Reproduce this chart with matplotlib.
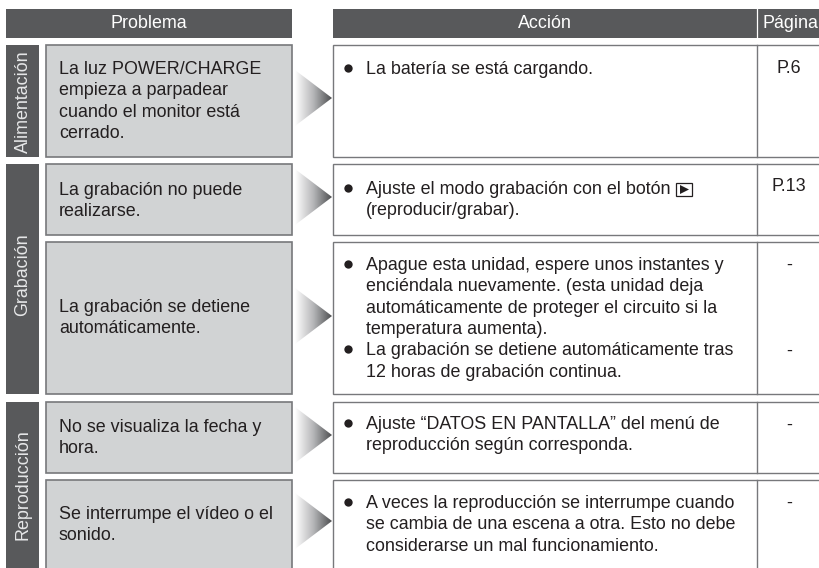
import numpy as np
import matplotlib
matplotlib.use("Agg")
import matplotlib.pyplot as plt
from matplotlib.patches import Rectangle, Polygon

plt.rcParams['font.family'] = ['Liberation Sans', 'DejaVu Sans']

cabeceras = ["Problema", "Acción", "Página"]
grupos = ["Alimentación", "Grabación", "Reproducción"]
problemas = [
	["La luz POWER/CHARGE", "empieza a parpadear", "cuando el monitor está", "cerrado."],
	["La grabación no puede", "realizarse."],
	["La grabación se detiene", "automáticamente."],
	["No se visualiza la fecha y", "hora."],
	["Se interrumpe el vídeo o el", "sonido."],
]
acciones = [
	[["La batería se está cargando."]],
	[["Ajuste el modo grabación con el botón", "(reproducir/grabar)."]],
	[["Apague esta unidad, espere unos instantes y", "enciéndala nuevamente. (esta unidad deja",
	  "automáticamente de proteger el circuito si la", "temperatura aumenta)."],
	 ["La grabación se detiene automáticamente tras", "12 horas de grabación continua."]],
	[["Ajuste “DATOS EN PANTALLA” del menú de", "reproducción según corresponda."]],
	[["A veces la reproducción se interrumpe cuando", "se cambia de una escena a otra. Esto no debe",
	  "considerarse un mal funcionamiento."]],
]
paginas = [["P.6"], ["P.13"], ["-", "-"], ["-"], ["-"]]

# layout en pixeles de la imagen
fila_arriba = [45, 164, 242, 402, 480]
fila_abajo = [157, 235, 394, 473, 570]
grupo_arriba = [45, 164, 402]
grupo_abajo = [157, 394, 570]
grupo_centro = [101.5, 275, 485]
flecha_centro = [98, 197, 316, 435, 521]
base_problema = [74, 195, 312, 432, 519]
base_accion = [74, 194, 270, 429, 508]
base_pagina = [[73], [191], [270, 356], [430], [508]]
paso = 21.3

oscuro = "#58595b"
relleno = "#d1d3d4"
borde = "#77787b"
texto = "#231f20"
tam = 12.9

fig = plt.figure(figsize=(8.2, 5.68), dpi=100)
ax = fig.add_axes([0, 0, 1, 1])
ax.set_xlim(0, 820)
ax.set_ylim(568, 0)
ax.axis("off")

# cabeceras
ax.add_patch(Rectangle((6, 9), 286, 29, fc=oscuro, ec="none"))
ax.add_patch(Rectangle((333, 9), 487, 29, fc=oscuro, ec="none"))
ax.plot([757.5, 757.5], [9, 38], color="white", lw=0.9)
for x, t in zip([149, 545, 790], cabeceras):
	ax.text(x, 28.5, t, color="white", fontsize=12.9, ha="center", va="baseline")

# grupos
for arriba, abajo, centro, t in zip(grupo_arriba, grupo_abajo, grupo_centro, grupos):
	ax.add_patch(Rectangle((6, arriba), 33, abajo - arriba, fc=oscuro, ec="none"))
	ax.text(23, centro, t, color="#e6e7e8", fontsize=12.9, rotation=90, ha="center", va="center")

# gradiente de las flechas
grad = np.linspace(0, 1, 256).reshape(1, -1)
cmap = matplotlib.colors.LinearSegmentedColormap.from_list("flecha", ["#ffffff", "#b5b6b8", "#4d4e50"])

for i in range(5):
	arriba, abajo = fila_arriba[i], fila_abajo[i]
	ax.add_patch(Rectangle((46.5, arriba), 245.5, abajo - arriba, fc=relleno, ec=borde, lw=1.2))
	ax.add_patch(Rectangle((333, arriba), 500, abajo - arriba, fc="white", ec=borde, lw=1.0))
	ax.plot([757.5, 757.5], [arriba, abajo], color=borde, lw=1.0)

	# flecha
	yc = flecha_centro[i]
	im = ax.imshow(grad, extent=[295, 332, yc + 28, yc - 28], cmap=cmap, aspect="auto", zorder=3)
	im.set_clip_path(Polygon([(295, yc - 28), (332, yc), (295, yc + 28)], transform=ax.transData))

	# texto del problema
	for j, linea in enumerate(problemas[i]):
		ax.text(59, base_problema[i] + j * paso, linea, color=texto, fontsize=tam, va="baseline")

	# texto de la accion
	y = base_accion[i]
	for parrafo in acciones[i]:
		ax.plot([348], [y - 6], "o", color=texto, ms=6, mew=0)
		for linea in parrafo:
			ax.text(366, y, linea, color=texto, fontsize=tam, va="baseline")
			y += paso

	for y_pag, t in zip(base_pagina[i], paginas[i]):
		ax.text(789, y_pag, t, color=texto, fontsize=tam, ha="center", va="baseline")

# simbolo del boton de reproducir
ax.add_patch(Rectangle((676, 183), 16, 13, fc="white", ec=texto, lw=0.9))
ax.add_patch(Polygon([(680, 185), (680, 194), (689, 189.5)], fc=texto, ec="none"))

ax.set_xlim(0, 820)
ax.set_ylim(568, 0)
fig.savefig("out.png", dpi=100)
